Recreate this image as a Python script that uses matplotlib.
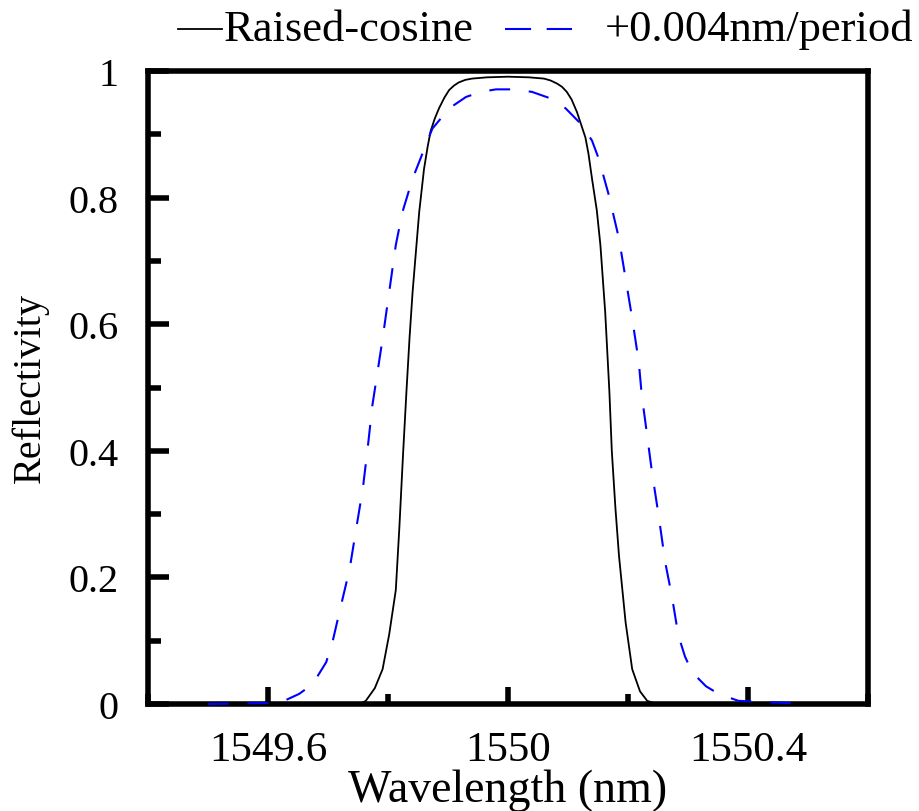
import numpy as np
import matplotlib
matplotlib.use("Agg")
import matplotlib.pyplot as plt
from matplotlib.lines import Line2D
from matplotlib.ticker import MultipleLocator

plt.rcParams['font.family'] = ['Liberation Serif', 'DejaVu Serif']

# raised-cosine apodised grating (solid black)
wl_rc = [1549.50, 1549.74, 1549.755, 1549.763, 1549.778, 1549.791, 1549.802, 1549.813, 1549.819,
         1549.825, 1549.831, 1549.836, 1549.841, 1549.847, 1549.852, 1549.860, 1549.866,
         1549.871, 1549.878, 1549.885, 1549.894, 1549.902, 1549.910, 1549.918, 1549.929, 1549.940,
         1549.965, 1550.000, 1550.035, 1550.060, 1550.071, 1550.082, 1550.090, 1550.098, 1550.106,
         1550.115, 1550.122, 1550.129, 1550.134, 1550.140, 1550.148, 1550.154, 1550.162, 1550.169,
         1550.173, 1550.179, 1550.185, 1550.196, 1550.207, 1550.220, 1550.232, 1550.245, 1550.26,
         1550.50]
r_rc = [0, 0, 0.001, 0.005, 0.025, 0.055, 0.11, 0.18, 0.28,
        0.393, 0.498, 0.58, 0.651, 0.72, 0.777, 0.845, 0.88,
        0.905, 0.925, 0.941, 0.958, 0.970, 0.977, 0.982, 0.986, 0.988,
        0.990, 0.991, 0.990, 0.988, 0.985, 0.98, 0.975, 0.967, 0.955,
        0.935, 0.915, 0.895, 0.87, 0.83, 0.78, 0.725, 0.619, 0.493,
        0.40, 0.31, 0.234, 0.129, 0.055, 0.02, 0.005, 0.001, 0,
        0]

# chirped version, +0.004nm/period (dashed blue)
wl_ch = [1549.50, 1549.62, 1549.652, 1549.668, 1549.680, 1549.697, 1549.708, 1549.719,
         1549.736, 1549.747, 1549.758, 1549.766, 1549.774, 1549.780, 1549.791, 1549.802,
         1549.813, 1549.824, 1549.841, 1549.863, 1549.874, 1549.902, 1549.930, 1549.955,
         1549.980, 1550.010, 1550.040, 1550.070, 1550.096, 1550.124, 1550.140, 1550.151,
         1550.168, 1550.185, 1550.196, 1550.207, 1550.218, 1550.223, 1550.229, 1550.240,
         1550.251, 1550.262, 1550.273, 1550.284, 1550.295, 1550.307, 1550.330, 1550.351,
         1550.384, 1550.50]
r_ch = [0, 0.002, 0.016, 0.027, 0.040, 0.066, 0.10, 0.145,
        0.213, 0.277, 0.34, 0.403, 0.472, 0.509, 0.577, 0.651,
        0.725, 0.777, 0.83, 0.883, 0.909, 0.941, 0.959, 0.967,
        0.971, 0.971, 0.967, 0.957, 0.941, 0.914, 0.89, 0.862,
        0.804, 0.735, 0.672, 0.609, 0.54, 0.487, 0.445, 0.366,
        0.298, 0.224, 0.171, 0.108, 0.075, 0.05, 0.028, 0.016,
        0.005, 0]

xticks = [1549.6, 1550.0, 1550.4]
xtick_labels = ["1549.6", "1550", "1550.4"]
yticks = [0, 0.2, 0.4, 0.6, 0.8, 1.0]
ytick_labels = ["0", "0.2", "0.4", "0.6", "0.8", "1"]

fig = plt.figure(figsize=(9.2, 8.12), dpi=100)
ax = fig.add_axes([148 / 920, 1 - 705 / 812, 720 / 920, 633 / 812])

ax.plot(wl_rc, r_rc, color='black', lw=1.3, zorder=2)
ax.plot(wl_ch, r_ch, color='blue', lw=1.5, dashes=(10, 9), zorder=3, clip_on=False)

ax.set_xlim(1549.4, 1550.6)
ax.set_ylim(0, 1)
ax.set_xticks(xticks)
ax.set_xticklabels(xtick_labels)
ax.set_yticks(yticks)
ax.set_yticklabels(ytick_labels)
ax.xaxis.set_minor_locator(MultipleLocator(0.2))
ax.yaxis.set_minor_locator(MultipleLocator(0.1))

for s in ax.spines.values():
    s.set_linewidth(4)
ax.tick_params(which='both', direction='in', top=False, right=False, width=4)
ax.tick_params(axis='y', which='major', length=15, pad=21, labelsize=29)
ax.tick_params(axis='y', which='minor', length=9)
ax.tick_params(axis='x', which='major', length=12, pad=19, labelsize=31)
ax.tick_params(axis='x', which='minor', length=7)

ax.set_xlabel("Wavelength (nm)", fontsize=33, labelpad=0)
ax.set_ylabel("Reflectivity", fontsize=29, labelpad=14)

# legend drawn by hand above the axes
ly = 1 - 30 / 812
fig.add_artist(Line2D([178 / 920, 222 / 920], [ly, ly], color='black', lw=1.3))
fig.text(224 / 920, ly, "Raised-cosine", fontsize=32, va='center', ha='left')
fig.add_artist(Line2D([505 / 920, 572 / 920], [ly, ly], color='blue', lw=1.5,
                      dashes=(12.5, 7.5)))
fig.text(605 / 920, ly, "+0.004nm/period", fontsize=32, va='center', ha='left')

fig.savefig("out.png", dpi=100)
